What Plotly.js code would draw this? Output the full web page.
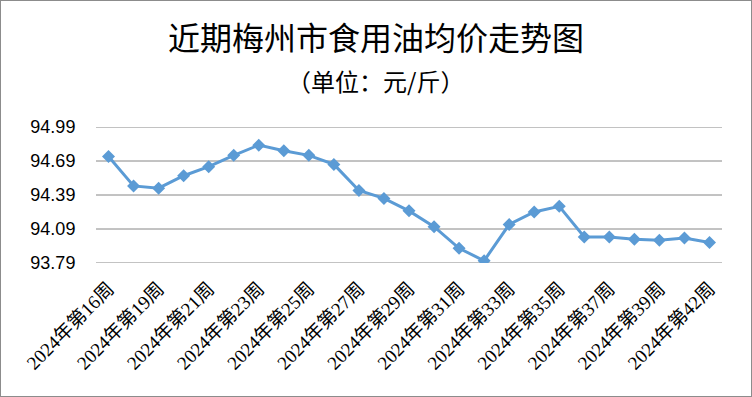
<!DOCTYPE html>
<html>
<head>
<meta charset="utf-8">
<script src="https://cdn.plot.ly/plotly-3.0.1.min.js"></script>
<style>
html,body{margin:0;padding:0;background:#fff;}
#chart{width:750px;height:395px;border:1px solid #8c8c8c;}
</style>
</head>
<body>
<div id="chart"></div>
<script>
const weeks = ["2024年第16周","2024年第18周","2024年第19周","2024年第20周","2024年第21周","2024年第22周","2024年第23周","2024年第24周","2024年第25周","2024年第26周","2024年第27周","2024年第28周","2024年第29周","2024年第30周","2024年第31周","2024年第32周","2024年第33周","2024年第34周","2024年第35周","2024年第36周","2024年第37周","2024年第38周","2024年第39周","2024年第40周","2024年第42周"];
const prices = [94.73,94.47,94.45,94.56,94.64,94.74,94.83,94.78,94.74,94.66,94.43,94.36,94.25,94.11,93.92,93.81,94.13,94.24,94.29,94.02,94.02,94.00,93.99,94.01,93.97];
const shownLabels = ["2024年第16周","2024年第19周","2024年第21周","2024年第23周","2024年第25周","2024年第27周","2024年第29周","2024年第31周","2024年第33周","2024年第35周","2024年第37周","2024年第39周","2024年第42周"];
const yTicks = [93.79,94.09,94.39,94.69,94.99];

const trace = {
  x: weeks, y: prices, type: 'scatter', mode: 'lines+markers',
  line: {color: '#5B9BD5', width: 3},
  marker: {symbol: 'diamond', size: 10, color: '#5B9BD5'},
  hoverinfo: 'x+y'
};
const gridShapes = yTicks.map(v => ({
  type: 'line', xref: 'paper', yref: 'y', x0: 0, x1: 1, y0: v, y1: v,
  line: {color: '#868686', width: 1}, layer: 'below'
}));
const layout = {
  width: 750, height: 395,
  margin: {l: 95, r: 29, t: 126, b: 133},
  paper_bgcolor: '#fff', plot_bgcolor: '#fff',
  showlegend: false,
  title: {text: '近期梅州市食用油均价走势图', x: 0.5, xanchor: 'center', y: 0.905, yanchor: 'middle', yref: 'container',
          font: {family: '"Noto Sans CJK SC", sans-serif', size: 32, color: '#000'}},
  annotations: [{text: '（单位：元/斤）', xref: 'paper', yref: 'paper', x: 0.447, y: 1.345, xanchor: 'center', yanchor: 'middle',
                 showarrow: false, font: {family: '"Noto Sans CJK SC", sans-serif', size: 24, color: '#000'}}],
  shapes: gridShapes,
  xaxis: {
    type: 'category', range: [-0.5, weeks.length - 0.5],
    tickmode: 'array', tickvals: shownLabels, ticktext: shownLabels,
    tickangle: -45, showgrid: false, showline: false, zeroline: false,
    ticks: 'outside', ticklen: 6, tickcolor: 'rgba(0,0,0,0)',
    tickfont: {family: '"Liberation Serif", "Noto Sans CJK SC", serif', size: 19, color: '#000'}
  },
  yaxis: {
    range: [93.79, 94.99], tickmode: 'array', tickvals: yTicks, tickformat: '.2f',
    showgrid: false, zeroline: false, showline: false,
    ticks: 'outside', ticklen: 16, tickcolor: 'rgba(0,0,0,0)',
    tickfont: {family: '"Liberation Sans", sans-serif', size: 18, color: '#000'}
  }
};
Plotly.newPlot('chart', [trace], layout, {displayModeBar: false, staticPlot: true});
</script>
</body>
</html>
